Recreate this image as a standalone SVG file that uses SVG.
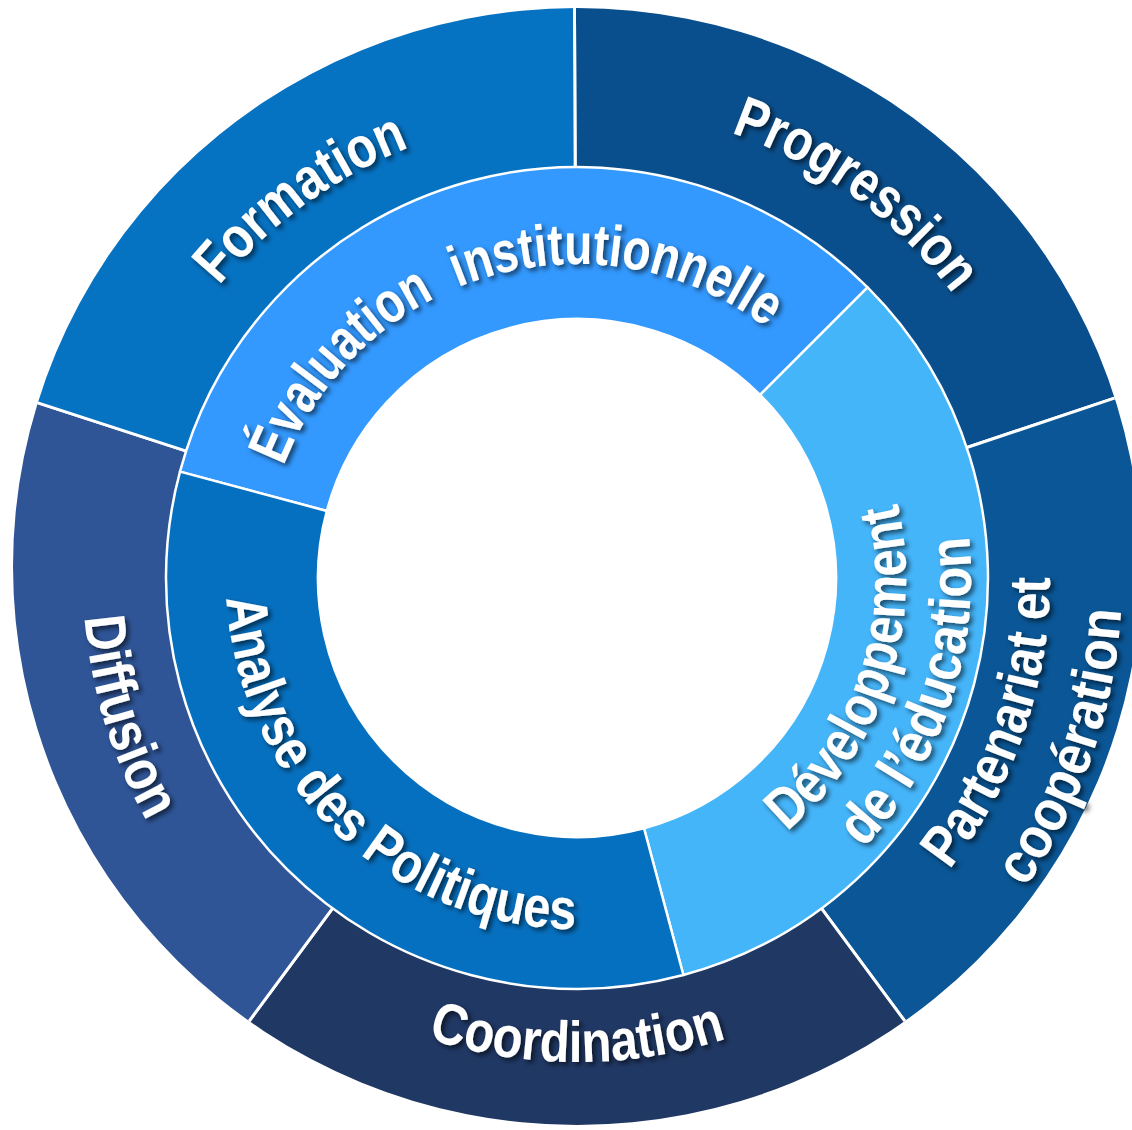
<svg xmlns="http://www.w3.org/2000/svg" width="1132" height="1130" viewBox="0 0 1132 1130">
<style>
.seg{stroke:#fff;stroke-width:3;stroke-linejoin:round}
.iseg{stroke:#fff;stroke-width:2.5;stroke-linejoin:round}
.lbl{font-family:"Liberation Sans Narrow","Liberation Sans",Arial,sans-serif;font-weight:700;font-size:58px;fill:#fff;filter:url(#sh)}
</style>
<defs>
<filter id="sh" x="-20%" y="-20%" width="140%" height="140%">
<feDropShadow dx="3" dy="3" stdDeviation="2.4" flood-color="#000" flood-opacity="0.6"/>
</filter>
<clipPath id="outerRing">
<path clip-rule="evenodd" d="M13,566.5 a564,558.5 0 1,0 1128,0 a564,558.5 0 1,0 -1128,0 Z M166,578 a411,411 0 1,0 822,0 a411,411 0 1,0 -822,0 Z"/>
</clipPath>
<path id="p-form" d="M117.5,626.3 A462,462 0 0 1 764.9,155.9"/>
<path id="p-prog" d="M385.4,147.7 A471,471 0 0 1 1045.4,627.2"/>
<path id="p-coord" d="M157.8,820 A484,484 0 0 0 996.2,820"/>
<path id="p-diff" d="M209.9,247.5 A494,494 0 0 0 474.3,1061.2"/>
<path id="p-part1" d="M667.3,1042.3 A473,473 0 0 0 934.0,267.7"/>
<path id="p-part2" d="M681.0,1113.0 A545,545 0 0 0 988.3,220.4"/>
<path id="p-eval" d="M292.4,710.7 A314,314 0 1 1 889.8,550.6"/>
<path id="p-dev1" d="M585.0,906.9 A329,329 0 0 0 782.3,320.9"/>
<path id="p-dev2" d="M586.6,971.9 A394,394 0 0 0 822.8,270.1"/>
<path id="p-anal" d="M284.3,384.3 A351,351 0 0 0 785.8,860.2"/>
</defs>

<g id="outer-ring" clip-path="url(#outerRing)">
<g id="progression"><path class="seg" fill="#0A4F8D" d="M577,578 L573,-322 L1430.5,292.4 Z"/></g>
<g id="partenariat"><path class="seg" fill="#0A5696" d="M577,578 L1430.5,292.4 L1112.3,1301.5 Z"/></g>
<g id="coordination"><path class="seg" fill="#203864" d="M577,578 L1112.3,1301.5 L41.7,1301.5 Z"/></g>
<g id="diffusion"><path class="seg" fill="#2F5597" d="M577,578 L41.7,1301.5 L-279,299.9 Z"/></g>
<g id="formation"><path class="seg" fill="#0672C2" d="M577,578 L-279,299.9 L573,-322 Z"/></g>
</g>

<g id="inner-ring">
<g id="evaluation"><path class="iseg" fill="#3399FF" d="M180.0,471.6 A411,411 0 0 1 867.6,287.4 L760.1,394.9 A259,259 0 0 0 326.8,511.0 Z"/></g>
<g id="developpement"><path class="iseg" fill="#45B5FA" d="M867.6,287.4 A411,411 0 0 1 683.4,975.0 L644.0,828.2 A259,259 0 0 0 760.1,394.9 Z"/></g>
<g id="analyse"><path class="iseg" fill="#0670C0" d="M683.4,975.0 A411,411 0 0 1 180.0,471.6 L326.8,511.0 A259,259 0 0 0 644.0,828.2 Z"/></g>
</g>

<g id="labels">
<text class="lbl"><textPath href="#p-form" startOffset="50%" text-anchor="middle" textLength="238" lengthAdjust="spacingAndGlyphs">Formation</textPath></text>
<text class="lbl"><textPath href="#p-prog" startOffset="50%" text-anchor="middle" textLength="278" lengthAdjust="spacingAndGlyphs">Progression</textPath></text>
<text class="lbl"><textPath href="#p-coord" startOffset="50%" text-anchor="middle" textLength="304" lengthAdjust="spacingAndGlyphs">Coordination</textPath></text>
<text class="lbl"><textPath href="#p-diff" startOffset="49.2%" text-anchor="middle" textLength="215" lengthAdjust="spacingAndGlyphs">Diffusion</textPath></text>
<text class="lbl"><textPath href="#p-part1" startOffset="50%" text-anchor="middle" textLength="315" lengthAdjust="spacingAndGlyphs">Partenariat et</textPath></text>
<text class="lbl"><textPath href="#p-part2" startOffset="50%" text-anchor="middle" textLength="298" lengthAdjust="spacingAndGlyphs">coopération</textPath></text>
<text class="lbl" style="white-space:pre"><textPath href="#p-eval" startOffset="49.5%" text-anchor="middle" textLength="582" lengthAdjust="spacingAndGlyphs">Évaluation  institutionnelle</textPath></text>
<text class="lbl"><textPath href="#p-dev1" startOffset="50%" text-anchor="middle" textLength="365" lengthAdjust="spacingAndGlyphs">Développement</textPath></text>
<text class="lbl"><textPath href="#p-dev2" startOffset="50%" text-anchor="middle" textLength="340" lengthAdjust="spacingAndGlyphs">de l’éducation</textPath></text>
<text class="lbl"><textPath href="#p-anal" startOffset="50%" text-anchor="middle" textLength="530" lengthAdjust="spacingAndGlyphs">Analyse des Politiques</textPath></text>
</g>
</svg>
